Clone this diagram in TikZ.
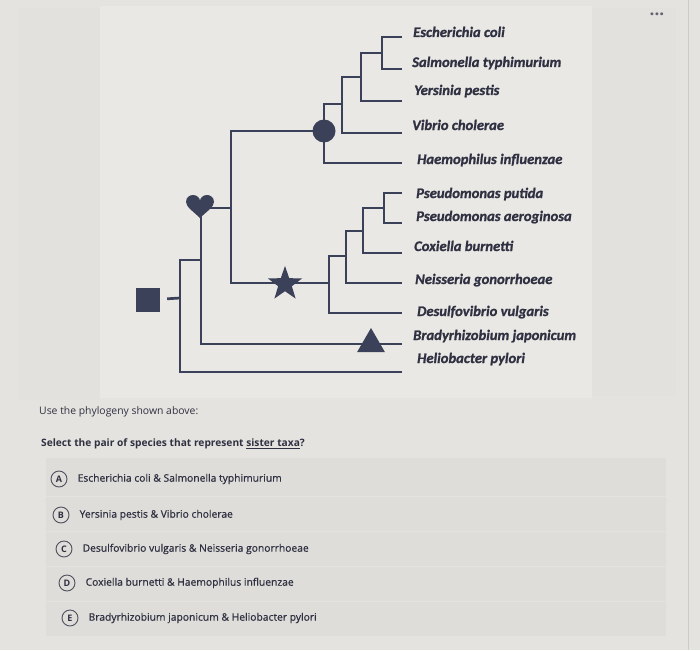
\documentclass[tikz,border=0pt]{standalone}
\usepackage{fontspec}
\setmainfont{Open Sans}
\newfontfamily\taxfont{Carlito}[BoldItalicFeatures={FakeBold=1.2}]
\newfontfamily\optfont{Open Sans}[FakeBold=0.7]
\usetikzlibrary{positioning,shapes.geometric}
\definecolor{branchcol}{HTML}{3A4158}
\definecolor{inkcol}{HTML}{2F3142}
\definecolor{pagecol}{HTML}{E5E3DF}
\definecolor{panelcol}{HTML}{E9E8E4}
\definecolor{sidecol}{HTML}{E2E1DD}
\definecolor{rowcol}{HTML}{DFDDD9}
\begin{document}
\begin{tikzpicture}[x=1pt, y=-1pt,
  branch/.style={line width=2.7pt, draw=branchcol},
  taxon/.style={anchor=west, inner sep=0pt, text=inkcol, text height=9pt, text depth=3pt,
    font=\taxfont\bfseries\itshape\fontsize{14.6}{15}\selectfont},
  marker/.style={fill=branchcol, inner sep=0pt},
  choice/.style={circle, draw=inkcol!85, line width=0.9pt, minimum size=16pt, inner sep=0pt,
    text=inkcol, font=\bfseries\fontsize{9}{9}\selectfont},
  answer/.style={anchor=west, inner sep=0pt, text=inkcol, font=\optfont\fontsize{10.3}{11}\selectfont}]
  \useasboundingbox (0,0) rectangle (700,650);
  % screen background
  \fill[pagecol] (0,0) rectangle (700,650);
  \fill[sidecol] (18,8) rectangle (100,400);
  \fill[panelcol] (100,6) rectangle (592,398);
  \fill[sidecol] (592,8) rectangle (676,396);
  \draw[gray!40, line width=0.8pt] (688,0) -- (688,650);
  \node[text=inkcol!75, font=\bfseries\fontsize{17}{17}\selectfont] (dots) at (657,14) {...};
  % answer rows
  \foreach \ya/\yb in {458/496, 497/531, 532/566, 567/601, 602/636}
    \fill[rowcol] (46,\ya) rectangle (666,\yb);

  % tips of the branches
  \foreach \name/\yy in {tEc/37, tSal/69, tYer/101, tVib/133, tHae/163, tPp/193,
      tPa/223, tCox/253, tNei/283, tDes/313, tBra/344, tHel/372}
    \coordinate (\name) at (402,\yy);
  % inner nodes
  \coordinate (n1) at (382,53);
  \coordinate (n2) at (361,77);
  \coordinate (n3) at (342,104);
  \coordinate (n4) at (324,131);
  \coordinate (m1) at (384,208);
  \coordinate (m2) at (363,231);
  \coordinate (m3) at (346,256);
  \coordinate (m4) at (329,283);
  \coordinate (u) at (231,208);
  \coordinate (hh) at (201,260);
  \coordinate (r) at (180,298);

  % upper clade
  \draw[branch] (tEc) -| (n1) |- (tSal);
  \draw[branch] (n1) -| (n2) |- (tYer);
  \draw[branch] (n2) -| (n3) |- (tVib);
  \draw[branch] (n3) -| (n4) |- (tHae);
  % lower clade
  \draw[branch] (tPp) -| (m1) |- (tPa);
  \draw[branch] (m1) -| (m2) |- (tCox);
  \draw[branch] (m2) -| (m3) |- (tNei);
  \draw[branch] (m3) -| (m4) |- (tDes);
  % deeper splits
  \draw[branch] (n4) -| (u) |- (m4);
  \draw[branch] (u) -| (hh) |- (tBra);
  \draw[branch] (hh) -| (r) |- (tHel);

  % markers on the tree
  \node[marker, circle, minimum size=23pt] (dot) at (n4) {};
  \node[marker, star, star points=5, star point ratio=2.5, minimum size=36pt] (star) at (285,284) {};
  \node[marker, regular polygon, regular polygon sides=3, minimum size=32pt] (tri) at (371,344) {};
  \node[marker, rectangle, minimum size=24pt] (sq) at (148,300) {};
  \draw[branch, shorten <=7pt] (sq) -- (r);
  \coordinate (h) at (200,206);
  \begin{scope}[shift={(h)}]
    \fill[branchcol] (0,12) .. controls (-6,6) and (-14,1) .. (-14,-4)
      .. controls (-14,-9) and (-10,-11) .. (-7,-11)
      .. controls (-3,-11) and (0,-8) .. (0,-5)
      .. controls (0,-8) and (3,-11) .. (7,-11)
      .. controls (10,-11) and (14,-9) .. (14,-4)
      .. controls (14,1) and (6,6) .. (0,12) -- cycle;
  \end{scope}

  % species names
  \node[taxon] (lEc) at (413,34) {Escherichia coli};
  \node[taxon] (lSal) at (412,64) {Salmonella typhimurium};
  \node[taxon] (lYer) at (414,92) {Yersinia pestis};
  \node[taxon] (lVib) at (412,127) {Vibrio cholerae};
  \node[taxon] (lHae) at (417,161) {Haemophilus influenzae};
  \node[taxon] (lPp) at (416,195) {Pseudomonas putida};
  \node[taxon] (lPa) at (416,218) {Pseudomonas aeroginosa};
  \node[taxon] (lCox) at (414,248) {Coxiella burnetti};
  \node[taxon] (lNei) at (415,281) {Neisseria gonorrhoeae};
  \node[taxon] (lDes) at (417,313) {Desulfovibrio vulgaris};
  \node[taxon] (lBra) at (413,337) {Bradyrhizobium japonicum};
  \node[taxon] (lHel) at (417,360) {Heliobacter pylori};

  % question
  \node[answer, font=\fontsize{10.4}{11}\selectfont] (intro) at (39,412) {Use the phylogeny shown above:};
  \node[answer, font=\bfseries\fontsize{10.2}{11}\selectfont] (quest) at (41,444)
    {Select the pair of species that represent \underline{sister taxa}?};
  \node[choice] (oA) at (59,479) {A};
  \node[choice] (oB) at (61,515) {B};
  \node[choice] (oC) at (64,549) {C};
  \node[choice] (oD) at (67,583) {D};
  \node[choice] (oE) at (70,618) {E};
  \node[answer, right=10pt of oA] (aA) {Escherichia coli \& Salmonella typhimurium};
  \node[answer, right=10pt of oB] (aB) {Yersinia pestis \& Vibrio cholerae};
  \node[answer, right=10pt of oC] (aC) {Desulfovibrio vulgaris \& Neisseria gonorrhoeae};
  \node[answer, right=10pt of oD] (aD) {Coxiella burnetti \& Haemophilus influenzae};
  \node[answer, right=10pt of oE] (aE) {Bradyrhizobium japonicum \& Heliobacter pylori};
\end{tikzpicture}
\end{document}
